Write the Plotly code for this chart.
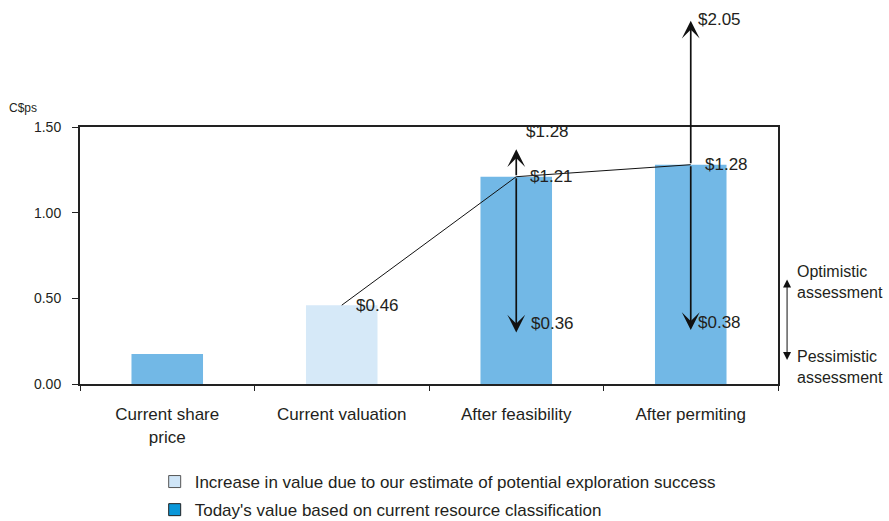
import plotly.graph_objects as go

# ---- data ----
categories = ["Current share<br>price", "Current valuation", "After feasibility", "After permiting"]
bar_values = [0.175, 0.46, 1.21, 1.28]
bar_kind = ["today", "increase", "today", "today"]
line_values = [None, 0.46, 1.21, 1.28]
value_labels = [None, "$0.46", "$1.21", "$1.28"]
upside_labels = [None, None, "$1.28", "$2.05"]
upside_ends = [None, None, 1.37, 2.12]
downside_labels = [None, None, "$0.36", "$0.38"]
downside_values = [None, None, 0.36, 0.38]
downside_ends = [None, None, 0.30, 0.315]
y_ticks = [0.0, 0.5, 1.0, 1.5]
legend_names = ["Increase in value due to our estimate of potential exploration success",
                "Today's value based on current resource classification"]
key_labels = ["Optimistic<br>assessment", "Pessimistic<br>assessment"]

# ---- style ----
FONT = "Liberation Sans, Arial, sans-serif"
TXT = "#231f20"
BAR_TODAY = "#72b8e6"
BAR_INCREASE = "#d6e9f8"
LEG_INCREASE = "#cfe5f7"
LEG_TODAY = "#0a97d9"
Y_MAX = 1.5
FS = 17

fig = go.Figure()

colors = [BAR_TODAY if k == "today" else BAR_INCREASE for k in bar_kind]
fig.add_trace(go.Bar(x=categories, y=bar_values, marker=dict(color=colors, line=dict(width=0)),
                     width=0.41, showlegend=False, hoverinfo="skip"))

# legend entries
fig.add_trace(go.Bar(x=[categories[0]], y=[None], name=legend_names[0], legendgroup="a",
                     marker=dict(color=LEG_INCREASE, line=dict(color="#555", width=1))))
fig.add_trace(go.Bar(x=[categories[0]], y=[None], name=legend_names[1], legendgroup="b",
                     marker=dict(color=LEG_TODAY, line=dict(color="#222", width=1))))

# connecting line
fig.add_trace(go.Scatter(x=categories[1:], y=line_values[1:], mode="lines",
                         line=dict(color="#111", width=1), showlegend=False, hoverinfo="skip"))

annotations = []
for i, lab in enumerate(value_labels):
    if lab:
        annotations.append(dict(x=i, y=bar_values[i], text=lab, showarrow=False, xanchor="left",
                                yanchor="middle", xshift=12, font=dict(size=FS, color=TXT)))

up_shift = {2: (8, 18), 3: (5, 1)}
down_shift = {2: (13, -1), 3: (5, -4)}
ARROW = dict(showarrow=True, arrowhead=3, arrowsize=1.75, arrowwidth=1.7, arrowcolor="#111",
             standoff=0, text="", xref="x", yref="y", axref="x", ayref="y")
for i in range(len(categories)):
    if upside_labels[i]:
        annotations.append(dict(x=i, y=upside_ends[i], ax=i, ay=bar_values[i], **ARROW))
        annotations.append(dict(x=i, y=upside_ends[i] / Y_MAX, xref="x", yref="paper",
                                text=upside_labels[i], showarrow=False,
                                xanchor="left", yanchor="middle",
                                xshift=up_shift[i][0], yshift=up_shift[i][1],
                                font=dict(size=FS, color=TXT)))
    if downside_labels[i]:
        annotations.append(dict(x=i, y=downside_ends[i], ax=i, ay=bar_values[i], **ARROW))
        annotations.append(dict(x=i, y=downside_values[i], text=downside_labels[i], showarrow=False,
                                xanchor="left", yanchor="middle",
                                xshift=down_shift[i][0], yshift=down_shift[i][1],
                                font=dict(size=FS, color=TXT)))

# right-side assessment key
annotations.append(dict(x=1.013, y=0.61, xref="paper", yref="y", ax=0, ay=82, axref="pixel",
                        ayref="pixel", showarrow=True, arrowhead=2, arrowside="end+start",
                        arrowsize=1.6, arrowwidth=1, arrowcolor="#111", standoff=0, startstandoff=0,
                        text=""))
for txt, yv in zip(key_labels, [0.595, 0.10]):
    annotations.append(dict(x=1.025, y=yv, xref="paper", yref="y", text=txt, showarrow=False,
                            xanchor="left", yanchor="middle", align="left",
                            font=dict(size=16, color=TXT)))

annotations.append(dict(x=-0.105, y=1.5, xref="paper", yref="y", text="C$ps", showarrow=False,
                        xanchor="left", yanchor="bottom", yshift=10, font=dict(size=12, color=TXT)))

fig.update_layout(
    width=889, height=521,
    margin=dict(l=80, r=111, t=127, b=137),
    paper_bgcolor="white", plot_bgcolor="white",
    font=dict(family=FONT, color=TXT, size=FS),
    barmode="overlay",
    annotations=annotations,
    showlegend=True,
    legend=dict(x=0.107, y=1 - 464 / 521, xref="paper", yref="container", xanchor="left",
                yanchor="top", traceorder="grouped", tracegroupgap=3,
                font=dict(size=FS, color=TXT), bgcolor="rgba(0,0,0,0)"),
)
fig.update_xaxes(type="category", showline=True, linecolor="#222", linewidth=2, mirror=True,
                 ticks="outside", tickson="boundaries", ticklen=5, tickcolor="#222",
                 tickfont=dict(size=FS, color=TXT), ticklabelstandoff=14,
                 showgrid=False, zeroline=False, fixedrange=True)
fig.update_yaxes(range=[0, Y_MAX], tickvals=y_ticks, ticktext=[f"{v:.2f}" for v in y_ticks],
                 showline=True, linecolor="#222", linewidth=2, mirror=True, ticks="outside",
                 ticklen=6, tickcolor="#222", tickfont=dict(size=14, color=TXT),
                 ticklabelstandoff=8, showgrid=False, zeroline=False)

fig.write_html("out.html")
